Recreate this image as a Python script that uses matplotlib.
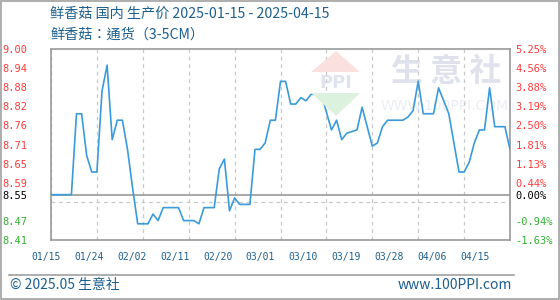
import matplotlib
matplotlib.use("Agg")
import matplotlib.pyplot as plt
from matplotlib.patches import Polygon, Rectangle
from matplotlib.lines import Line2D

plt.rcParams["font.family"] = ["Noto Sans CJK SC", "DejaVu Sans"]

# days after 2025-01-15, price of 鲜香菇
day_offsets = [0, 4, 5, 6, 7, 8, 9, 10, 11, 12, 13, 14, 15, 16, 17, 19, 20, 21, 22,
               25, 26, 28, 29, 30, 32, 33, 34, 35, 36, 37, 39, 40, 41, 42, 43, 44,
               45, 46, 47, 48, 49, 50, 51, 53, 55, 56, 57, 58, 60, 61, 63, 64, 65,
               66, 69, 70, 71, 72, 73, 75, 76, 78, 80, 81, 82, 83, 84, 85, 86, 87,
               89, 90]
prices = [8.55, 8.55, 8.80, 8.80, 8.67, 8.62, 8.62, 8.87, 8.95, 8.72, 8.78, 8.78,
          8.69, 8.57, 8.46, 8.46, 8.49, 8.47, 8.51, 8.51, 8.47, 8.47, 8.46, 8.51,
          8.51, 8.63, 8.66, 8.50, 8.54, 8.52, 8.52, 8.69, 8.69, 8.71, 8.78, 8.78,
          8.90, 8.90, 8.83, 8.83, 8.85, 8.84, 8.86, 8.86, 8.75, 8.78, 8.72, 8.74,
          8.75, 8.82, 8.70, 8.71, 8.76, 8.78, 8.78, 8.79, 8.81, 8.90, 8.80, 8.80,
          8.88, 8.80, 8.62, 8.62, 8.65, 8.71, 8.75, 8.75, 8.88, 8.76, 8.76, 8.69]

base_price = 8.55
grid_vals = [9.00, 8.941, 8.882, 8.823, 8.764, 8.705, 8.646, 8.587, 8.528, 8.469, 8.41]
label_vals = [9.00, 8.941, 8.882, 8.823, 8.764, 8.705, 8.646, 8.587, 8.55, 8.469, 8.41]
left_labels = ["9.00", "8.94", "8.88", "8.82", "8.76", "8.71", "8.65", "8.59",
               "8.55", "8.47", "8.41"]
right_labels = ["5.25%", "4.56%", "3.88%", "3.19%", "2.50%", "1.81%", "1.13%",
                "0.44%", "0.00%", "-0.94%", "-1.63%"]
grid_days = [0, 9, 18, 27, 36, 45, 54, 63, 72, 81, 90]
date_labels = ["01/15", "01/24", "02/02", "02/11", "02/20", "03/01", "03/10",
               "03/19", "03/28", "04/06", "04/15"]

W, H = 560, 300
RED, GREEN, BLUE_TXT = "#ff3b3b", "#33b033", "#1d5f8f"


def fx(x):
    return x / W


def fy(y):
    return 1 - y / H


fig = plt.figure(figsize=(5.6, 3.0), dpi=100)
ax = fig.add_axes([fx(51), fy(240), (510 - 51) / W, (240 - 49) / H])

# watermark (behind the line)
logo_kw = dict(transform=fig.transFigure, zorder=0.5, lw=0)
fig.patches.append(Polygon([(fx(311), fy(72)), (fx(360), fy(72)), (fx(336), fy(51))],
                           facecolor="#fbe0e0", **logo_kw))
fig.patches.append(Polygon([(fx(311), fy(93)), (fx(360), fy(93)), (fx(336), fy(116))],
                           facecolor="#dcf1de", **logo_kw))
ax.text(fx(336), fy(83), "PPI", transform=fig.transFigure, ha="center", va="center",
        fontsize=13, fontweight="bold", color="#dfe4ef", family="DejaVu Sans", zorder=0.6)
ax.text(fx(446), fy(72), "生 意 社", transform=fig.transFigure, ha="center", va="center",
        fontsize=23, fontweight="bold", color="#dfe2ec", zorder=0.6)
ax.text(fx(445), fy(106), "WWW.100PPI.COM", transform=fig.transFigure, ha="center",
        va="center", fontsize=10, color="#eceef3", family="DejaVu Sans", zorder=0.6)

ax.plot(day_offsets, prices, color="#3a9bdc", lw=1.2, zorder=3)
ax.axhline(base_price, color="#999999", lw=1.2, zorder=2)

ax.set_xlim(0, 90)
ax.set_ylim(8.41, 9.00)
ax.set_xticks(grid_days)
ax.set_xticklabels([])
ax.set_yticks(grid_vals, minor=True)
ax.set_yticks(label_vals)
ax.set_yticklabels(left_labels)
ax.grid(True, axis="x", which="major", color="#c8c8c8", lw=0.9, ls=(0, (3, 3)))
ax.grid(True, axis="y", which="minor", color="#c8c8c8", lw=0.9, ls=(0, (3, 3)))
ax.tick_params(which="both", length=0)
ax.tick_params(axis="y", pad=17, labelsize=7.5)
for spine in ax.spines.values():
    spine.set_color("#999999")
    spine.set_linewidth(1.2)


def label_color(v):
    if abs(v - base_price) < 1e-9:
        return "black"
    return RED if v > base_price else GREEN


for lab, v in zip(ax.get_yticklabels(), label_vals):
    lab.set_family("DejaVu Sans Mono")
    lab.set_color(label_color(v))

ax2 = ax.twinx()
ax2.set_ylim(ax.get_ylim())
ax2.set_yticks(label_vals)
ax2.set_yticklabels(right_labels)
ax2.tick_params(length=0, pad=4, labelsize=7.5)
for spine in ax2.spines.values():
    spine.set_visible(False)
for lab, v in zip(ax2.get_yticklabels(), label_vals):
    lab.set_family("DejaVu Sans Mono")
    lab.set_color(label_color(v))

# date labels: spaced a little tighter than the grid, as in the source
for i, lab in enumerate(date_labels):
    ax.text(fx(46.2 + 42.85 * i), fy(257), lab, transform=fig.transFigure,
            ha="center", va="center", fontsize=7, color=BLUE_TXT,
            family="DejaVu Sans Mono")

fig.text(fx(50), fy(14), "鲜香菇 国内 生产价 2025-01-15 - 2025-04-15",
         ha="left", va="center", fontsize=10.2, color=BLUE_TXT)
# TC variant centres the full-width colon, like the source
fig.text(fx(50), fy(34.5), "鲜香菇：通货（3-5CM）",
         ha="left", va="center", fontsize=10.2, color=BLUE_TXT,
         family=["Noto Sans CJK TC", "DejaVu Sans"])

fig.lines.append(Line2D([fx(9), fx(514)], [fy(275), fy(275)], color="#a0a0a0",
                        lw=1.2, transform=fig.transFigure))
fig.text(fx(10), fy(285), "© 2025.05 生意社", ha="left", va="center",
         fontsize=10, color=BLUE_TXT)
fig.text(fx(512), fy(285), "www.100PPI.com", ha="right", va="center",
         fontsize=10, color=BLUE_TXT)
fig.patches.append(Rectangle((0.6 / W, 0.6 / H), (W - 1.2) / W, (H - 1.2) / H,
                             transform=fig.transFigure, fill=False,
                             edgecolor="#a0a0a0", lw=1.2))

fig.savefig("out.png", dpi=100)
